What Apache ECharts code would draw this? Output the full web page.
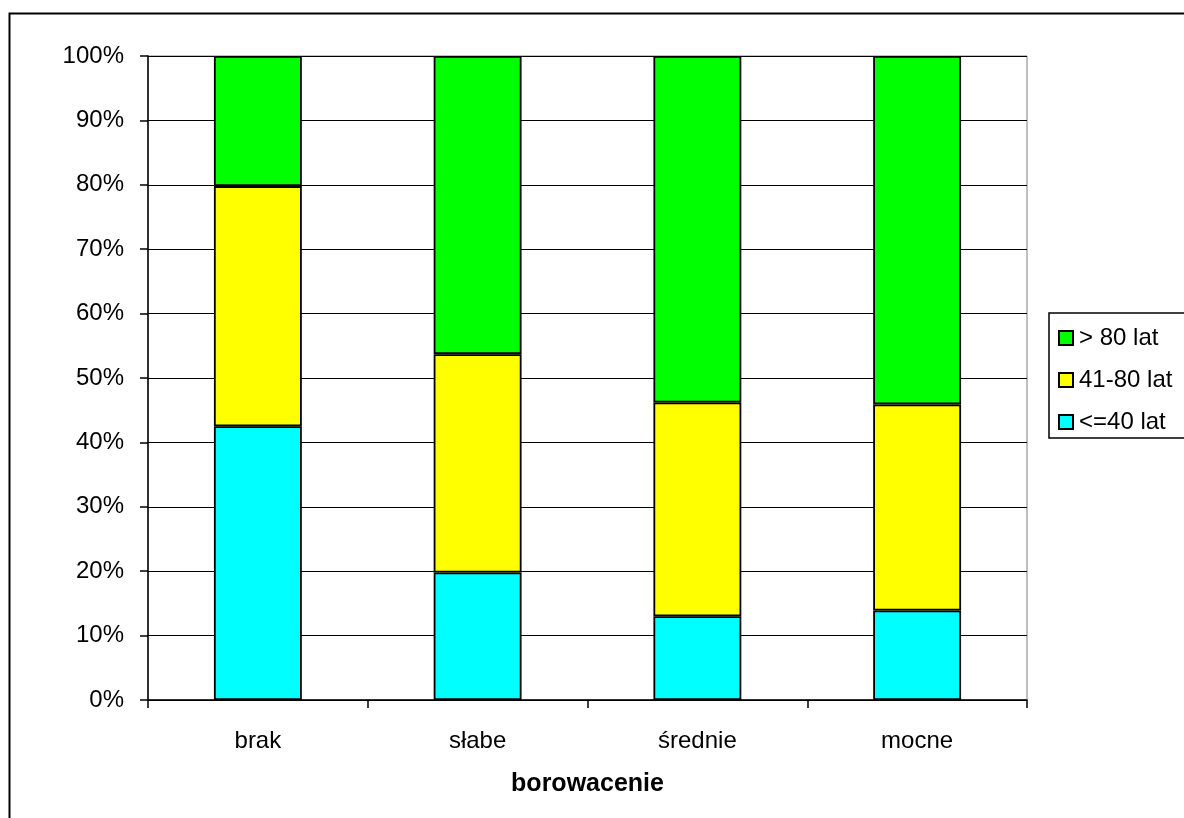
<!DOCTYPE html>
<html>
<head>
<meta charset="utf-8">
<style>
  html, body { margin: 0; padding: 0; background: #fff; }
  #chart { width: 1184px; height: 818px; }
</style>
<script src="https://cdn.jsdelivr.net/npm/echarts@6/dist/echarts.min.js"></script>
</head>
<body>
<div id="chart"></div>
<script>
// Age-class shares (%) per category of borowacenie
const categories = ['brak', 'słabe', 'średnie', 'mocne'];
const seriesNames = ['<=40 lat', '41-80 lat', '> 80 lat'];
const young = [42.5, 19.8, 13.0, 13.9];
const middle = [37.3, 33.9, 33.2, 32.0];
const old = [20.2, 46.3, 53.8, 54.1];
const seriesColors = ['#00FFFF', '#FFFF00', '#00FF00'];

const chart = echarts.init(document.getElementById('chart'));
const font = 'Liberation Sans, Arial, sans-serif';

const makeSeries = (name, data, color) => ({
  name: name,
  type: 'bar',
  stack: 'total',
  barWidth: '40%',
  data: data,
  itemStyle: { color: color, borderColor: '#000', borderWidth: 1.8 },
  emphasis: { disabled: true }
});

chart.setOption({
  animation: false,
  textStyle: { fontFamily: font },
  graphic: [{
    type: 'rect',
    shape: { x: 9.5, y: 13.5, width: 1190, height: 820 },
    style: { fill: 'none', stroke: '#000', lineWidth: 2 },
    silent: true
  }],
  grid: {
    left: 148, top: 56, width: 879, height: 644,
    show: true, borderColor: '#808080', borderWidth: 1, backgroundColor: 'transparent'
  },
  legend: {
    orient: 'vertical',
    left: 1049, top: 313,
    data: ['> 80 lat', '41-80 lat', '<=40 lat'],
    icon: 'rect',
    itemWidth: 14, itemHeight: 14,
    itemGap: 18,
    padding: [13, 40, 4, 9],
    borderColor: '#000', borderWidth: 1.5,
    textStyle: { fontFamily: font, fontSize: 24, lineHeight: 24, color: '#000', padding: [0, 0, 0, 1] },
    selectedMode: false
  },
  xAxis: {
    type: 'category',
    data: categories,
    name: 'borowacenie',
    nameLocation: 'middle',
    nameGap: 72,
    nameTextStyle: { fontFamily: font, fontSize: 25, fontWeight: 'bold', color: '#000' },
    axisLine: { lineStyle: { color: '#000', width: 1.5 } },
    axisTick: { show: true, length: 8, lineStyle: { color: '#000', width: 1.5 } },
    axisLabel: { fontFamily: font, fontSize: 24, color: '#000', margin: 29 },
    splitLine: { show: false }
  },
  yAxis: {
    type: 'value',
    min: 0, max: 100, interval: 10,
    axisLine: { show: true, lineStyle: { color: '#000', width: 1.5 } },
    axisTick: { show: true, length: 8, lineStyle: { color: '#000', width: 1.5 } },
    axisLabel: { fontFamily: font, fontSize: 24, color: '#000', margin: 24, formatter: '{value}%' },
    splitLine: { show: true, lineStyle: { color: '#000', width: 1.2 } }
  },
  series: [
    makeSeries(seriesNames[0], young, seriesColors[0]),
    makeSeries(seriesNames[1], middle, seriesColors[1]),
    makeSeries(seriesNames[2], old, seriesColors[2])
  ]
});
</script>
</body>
</html>
